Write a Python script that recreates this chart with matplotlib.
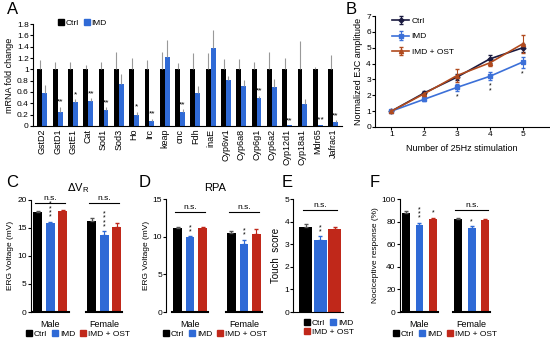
import matplotlib
matplotlib.use("Agg")
import matplotlib.pyplot as plt
import numpy as np
from matplotlib.patches import Patch
from matplotlib.transforms import blended_transform_factory

plt.rcParams['font.family'] = ['Liberation Sans', 'DejaVu Sans']

# ---------------- Data ----------------
genes = ["GstD2", "GstD1", "GstE1", "Cat", "Sod1", "Sod3", "Ho", "Irc", "keap", "cnc",
         "Fdh", "inaE", "Cyp6w1", "Cyp6a8", "Cyp6g1", "Cyp6a2", "Cyp12d1", "Cyp18a1",
         "Mdr65", "Jafrac1"]
ctrl_fold = [1.0] * 20
ctrl_fold_err = [0.17, 0.13, 0.13, 0.08, 0.13, 0.30, 0.20, 0.17, 0.30, 0.12,
                 0.28, 0.28, 0.18, 0.18, 0.13, 0.30, 0.20, 0.50, 0.05, 0.25]
imd_fold = [0.58, 0.24, 0.42, 0.44, 0.28, 0.74, 0.19, 0.09, 1.22, 0.24,
            0.58, 1.37, 0.81, 0.71, 0.49, 0.68, 0.01, 0.38, 0.01, 0.07]
imd_fold_err = [0.15, 0.10, 0.05, 0.05, 0.05, 0.18, 0.06, 0.04, 0.30, 0.05,
                0.12, 0.32, 0.08, 0.10, 0.04, 0.15, 0.0, 0.10, 0.01, 0.03]
fold_stars = ["", "**", "*", "**", "**", "", "*", "**", "", "**",
              "", "", "", "", "**", "", "**", "", "***", "**"]

stim = [1, 2, 3, 4, 5]
ejc_ctrl = [1.0, 2.15, 3.15, 4.3, 5.0]
ejc_ctrl_err = [0.05, 0.1, 0.2, 0.25, 0.25]
ejc_imd = [1.0, 1.75, 2.5, 3.2, 4.1]
ejc_imd_err = [0.03, 0.1, 0.2, 0.25, 0.35]
ejc_ost = [1.0, 2.1, 3.25, 4.05, 5.25]
ejc_ost_err = [0.03, 0.1, 0.4, 0.2, 0.55]
ejc_stars = ["", "", "*", "**", "*"]

sexes = ["Male", "Female"]
dvr_vals = [[17.8, 15.9, 18.0], [16.2, 13.8, 15.2]]
dvr_err = [[0.3, 0.2, 0.2], [0.5, 0.6, 0.6]]
dvr_stars = [["", "****", ""], ["", "****", ""]]

rpa_vals = [[11.1, 9.9, 11.1], [10.5, 9.0, 10.4]]
rpa_err = [[0.2, 0.15, 0.15], [0.3, 0.6, 0.6]]
rpa_stars = [["", "**", ""], ["", "**", ""]]

touch_vals = [3.78, 3.2, 3.68]
touch_err = [0.1, 0.15, 0.1]
touch_stars = ["", "**", ""]

noci_vals = [[88, 77, 82], [82, 74, 81]]
noci_err = [[1.0, 2.0, 1.5], [1.5, 2.0, 1.5]]
noci_stars = [["", "***", "*"], ["", "*", ""]]

groups3 = ["Ctrl", "IMD", "IMD + OST"]

# ---------------- Style ----------------
C_CTRL = "black"
C_IMD = "#2f6ad6"
C_OST = "#c0281a"
COLS = [C_CTRL, C_IMD, C_OST]

fig = plt.figure(figsize=(5.5, 3.44), dpi=100)

def style_axes(ax):
    ax.spines['top'].set_visible(False)
    ax.spines['right'].set_visible(False)
    ax.tick_params(axis='both', labelsize=6, length=2, width=0.8, pad=1)

# ---------------- Panel A ----------------
axA = fig.add_axes([0.06, 0.634, 0.562, 0.296])
x = np.arange(len(genes))
w = 0.32
axA.bar(x, ctrl_fold, w, color=C_CTRL)
axA.bar(x + w, imd_fold, w, color=C_IMD)
axA.errorbar(x, ctrl_fold, yerr=[np.zeros(20), ctrl_fold_err], fmt='none',
             ecolor='#999999', elinewidth=0.8, capsize=0)
axA.errorbar(x + w, imd_fold, yerr=[np.zeros(20), imd_fold_err], fmt='none',
             ecolor='#999999', elinewidth=0.8, capsize=0)
for i, s in enumerate(fold_stars):
    if s:
        axA.text(x[i] + w, imd_fold[i] + imd_fold_err[i] + 0.02, s, ha='center',
                 va='bottom', fontsize=6)
axA.set_ylim(0, 1.8)
axA.set_yticks(np.arange(0, 1.81, 0.2))
axA.set_yticklabels(["0", "0.2", "0.4", "0.6", "0.8", "1", "1.2", "1.4", "1.6", "1.8"])
axA.set_xlim(-0.45, 19.75)
axA.set_xticks(x + w / 2)
axA.set_xticklabels(genes, rotation=90, fontsize=6.5)
style_axes(axA)
axA.tick_params(axis='x', length=0, labelsize=6.5, pad=2)
axA.set_ylabel("mRNA fold change", fontsize=6.5, labelpad=2)
axA.legend(handles=[Patch(color=C_CTRL, label="Ctrl"), Patch(color=C_IMD, label="IMD")],
           loc='upper left', bbox_to_anchor=(0.07, 1.08), ncol=2, frameon=False,
           fontsize=6, handlelength=0.7, handleheight=0.7, handletextpad=0.2,
           columnspacing=0.6, borderaxespad=0)

# ---------------- Panel B ----------------
axB = fig.add_axes([0.682, 0.631, 0.316, 0.322])
axB.errorbar(stim, ejc_ctrl, yerr=ejc_ctrl_err, color="#1a1a40", marker='D', ms=2.5,
             lw=1.2, capsize=1.5, elinewidth=0.8, label="Ctrl")
axB.errorbar(stim, ejc_imd, yerr=ejc_imd_err, color="#3c70d8", marker='s', ms=2.5,
             lw=1.2, capsize=1.5, elinewidth=0.8, label="IMD")
axB.errorbar(stim, ejc_ost, yerr=ejc_ost_err, color="#b04a1e", marker='^', ms=3,
             lw=1.2, capsize=1.5, elinewidth=0.8, label="IMD + OST")
for i, s in enumerate(ejc_stars):
    if s:
        axB.text(stim[i], ejc_imd[i] - ejc_imd_err[i] - 0.15, "\n".join(s),
                 ha='center', va='top', fontsize=5, linespacing=0.5)
axB.set_xlim(0.5, 5.8)
axB.set_ylim(0, 7)
axB.set_xticks(stim)
axB.set_yticks(range(0, 8))
style_axes(axB)
axB.set_ylabel("Normalized EJC amplitude", fontsize=6.5, labelpad=2)
axB.set_xlabel("Number of 25Hz stimulation", fontsize=6.5, labelpad=4)
axB.legend(loc='upper left', bbox_to_anchor=(0.08, 1.02), frameon=False, fontsize=6,
           handlelength=2.0, handletextpad=0.3, labelspacing=0.9, borderaxespad=0)

# ---------------- grouped bar helper ----------------
def grouped(ax, vals, errs, stars, pos_f, width, xlim, ymax, yticks, ns_y, title=None,
            ylabel=None, ns=(True, True)):
    pos_groups = [np.array([0, 1, 2]), np.array([0, 1, 2]) + pos_f]
    trans = blended_transform_factory(ax.transData, ax.transAxes)
    for g in range(2):
        p = pos_groups[g]
        for j in range(3):
            ax.bar(p[j], vals[g][j], width, color=COLS[j])
            ax.errorbar(p[j], vals[g][j], yerr=[[0], [errs[g][j]]], fmt='none',
                        ecolor=COLS[j] if j else '#555555', elinewidth=0.8, capsize=1.5)
            if stars[g][j]:
                ax.text(p[j], vals[g][j] + errs[g][j] + ymax * 0.01, "\n".join(stars[g][j]),
                        ha='center', va='bottom', fontsize=5, linespacing=0.45)
        ax.plot([p[0] - width / 2 - 0.1, p[2] + width / 2 + 0.1], [0, 0], color='black',
                lw=1.5, clip_on=False, transform=ax.transData)
        ax.text((p[0] + p[2]) / 2, -0.07, sexes[g], transform=trans, ha='center',
                va='top', fontsize=6.5)
        if ns[g]:
            ax.plot([p[0] - 0.2, p[2] + 0.2], [ns_y, ns_y], color='black', lw=0.8)
            ax.text((p[0] + p[2]) / 2, ns_y + ymax * 0.01, "n.s.", ha='center',
                    va='bottom', fontsize=6)
    ax.set_xlim(*xlim)
    ax.set_ylim(0, ymax)
    ax.set_yticks(yticks)
    ax.set_xticks([])
    style_axes(ax)
    ax.spines['bottom'].set_visible(False)
    if title:
        ax.set_title(title, fontsize=8, pad=6)
    if ylabel:
        ax.set_ylabel(ylabel, fontsize=6, labelpad=2)
    ax.legend(handles=[Patch(color=c, label=l) for c, l in zip(COLS, groups3)],
              loc='upper center', bbox_to_anchor=(0.5, -0.13), ncol=3, frameon=False,
              fontsize=6, handlelength=0.7, handleheight=0.7, handletextpad=0.25,
              columnspacing=0.6, borderaxespad=0)

# ---------------- Panel C ----------------
axC = fig.add_axes([0.056, 0.093, 0.172, 0.326])
grouped(axC, dvr_vals, dvr_err, dvr_stars, 4.3, 0.72, (-0.56, 7.0), 20,
        [0, 5, 10, 15, 20], 19.5, title=r"$\Delta$V$_\mathregular{R}$",
        ylabel="ERG Voltage (mV)")

# ---------------- Panel D ----------------
axD = fig.add_axes([0.302, 0.093, 0.178, 0.3285])
grouped(axD, rpa_vals, rpa_err, rpa_stars, 4.3, 0.67, (-0.92, 6.9), 15,
        [0, 5, 10, 15], 13.3, title="RPA", ylabel="ERG Voltage (mV)")

# ---------------- Panel E ----------------
axE = fig.add_axes([0.533, 0.093, 0.091, 0.3285])
xe = np.arange(3)
axE.bar(xe, touch_vals, 0.9, color=COLS)
for j in range(3):
    axE.errorbar(xe[j], touch_vals[j], yerr=[[0], [touch_err[j]]], fmt='none',
                 ecolor='#555555' if j == 0 else COLS[j], elinewidth=0.8, capsize=1.5)
    if touch_stars[j]:
        axE.text(xe[j], touch_vals[j] + touch_err[j] + 0.05, "\n".join(touch_stars[j]),
                 ha='center', va='bottom', fontsize=5, linespacing=0.45)
axE.plot([-0.2, 2.2], [4.5, 4.5], color='black', lw=0.8)
axE.text(1, 4.55, "n.s.", ha='center', va='bottom', fontsize=6)
axE.set_xlim(-0.86, 2.6)
axE.set_ylim(0, 5)
axE.set_yticks(range(0, 6))
axE.set_xticks([])
style_axes(axE)
axE.set_ylabel("Touch  score", fontsize=7, labelpad=2)
legE1 = axE.legend(handles=[Patch(color=c, label=l) for c, l in zip(COLS[:2], groups3[:2])],
                   loc='upper left', bbox_to_anchor=(0.15, -0.03), ncol=2, frameon=False,
                   fontsize=6, handlelength=0.7, handleheight=0.7, handletextpad=0.25,
                   columnspacing=0.6, borderaxespad=0)
axE.add_artist(legE1)
axE.legend(handles=[Patch(color=COLS[2], label=groups3[2])],
           loc='upper left', bbox_to_anchor=(0.15, -0.11), frameon=False,
           fontsize=6, handlelength=0.7, handleheight=0.7, handletextpad=0.25,
           borderaxespad=0)

# ---------------- Panel F ----------------
axF = fig.add_axes([0.727, 0.093, 0.164, 0.3285])
grouped(axF, noci_vals, noci_err, noci_stars, 3.85, 0.56, (-0.44, 6.2), 100,
        [0, 20, 40, 60, 80, 100], 90, ylabel="Nociceptive response (%)",
        ns=(False, True))

# ---------------- Panel letters ----------------
for lab, xx, yy in [("A", 0.012, 0.995), ("B", 0.628, 0.995), ("C", 0.012, 0.49),
                    ("D", 0.252, 0.49), ("E", 0.512, 0.49), ("F", 0.672, 0.49)]:
    fig.text(xx, yy, lab, fontsize=12, va='top', ha='left')

fig.savefig("out.png", dpi=100)
